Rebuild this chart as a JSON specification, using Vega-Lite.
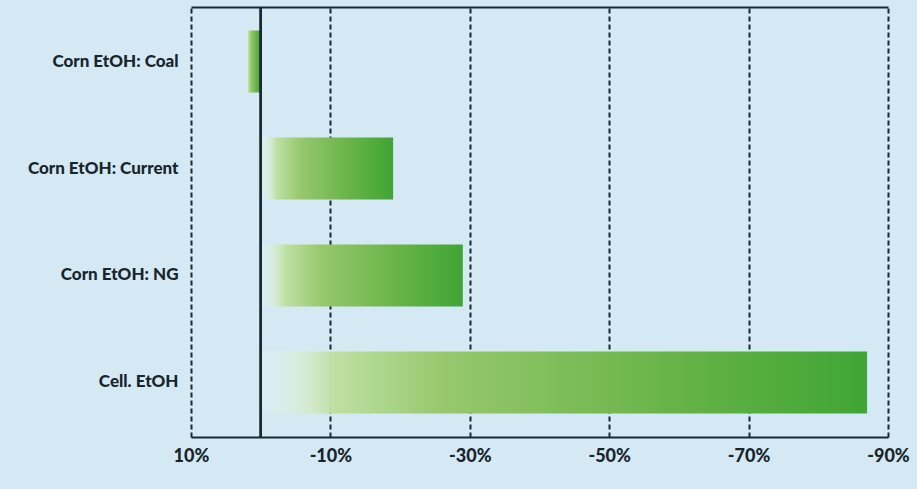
{
  "$schema": "https://vega.github.io/schema/vega-lite/v6.json",
  "width": 697,
  "height": 430,
  "autosize": {"type": "none"},
  "padding": {"left": 191, "top": 7, "right": 29, "bottom": 52},
  "background": "#d5e9f4",
  "config": {
    "view": {"stroke": null},
    "font": "Lato"
  },
  "data": {
    "values": [
      {"fuel": "Corn EtOH: Coal", "change": 2},
      {"fuel": "Corn EtOH: Current", "change": -19},
      {"fuel": "Corn EtOH: NG", "change": -29},
      {"fuel": "Cell. EtOH", "change": -87}
    ]
  },
  "layer": [
    {
      "mark": {
        "type": "bar",
        "color": {
          "gradient": "linear",
          "x1": 0, "y1": 0, "x2": 1, "y2": 0,
          "stops": [
            {"offset": 0, "color": "rgba(245,250,240,0.1)"},
            {"offset": 0.12, "color": "#bfe0a4"},
            {"offset": 0.3, "color": "#97c86d"},
            {"offset": 0.7, "color": "#65b246"},
            {"offset": 1, "color": "#3fa535"}
          ]
        }
      },
      "encoding": {
        "y": {
          "field": "fuel",
          "type": "nominal",
          "sort": null,
          "scale": {"paddingInner": 0.42, "paddingOuter": 0.22},
          "axis": {
            "title": null,
            "domain": false,
            "ticks": false,
            "labelPadding": 13,
            "labelFontSize": 17,
            "labelFontWeight": 900,
            "labelColor": "#17252d"
          }
        },
        "x": {
          "field": "change",
          "type": "quantitative",
          "scale": {"domain": [-90, 10], "reverse": true, "nice": false, "zero": false},
          "axis": {
            "title": null,
            "values": [10, -10, -30, -50, -70, -90],
            "labelExpr": "datum.value + '%'",
            "grid": true,
            "gridDash": [5, 3],
            "gridColor": "#1a2830",
            "gridWidth": 2,
            "gridOpacity": 1,
            "domainColor": "#1a2830",
            "domainWidth": 2,
            "ticks": false,
            "labelPadding": 10,
            "labelFontSize": 18,
            "labelFontWeight": 900,
            "labelColor": "#17252d",
            "labelFlush": false
          }
        }
      }
    },
    {
      "mark": {"type": "rule", "color": "#1a2830", "strokeWidth": 2},
      "encoding": {
        "x": {
          "datum": 0,
          "type": "quantitative",
          "axis": {"orient": "top", "labels": false, "ticks": false, "grid": false, "domain": true, "domainColor": "#1a2830", "domainWidth": 2, "title": null, "values": []}
        }
      }
    }
  ],
  "resolve": {"axis": {"x": "independent"}}
}
